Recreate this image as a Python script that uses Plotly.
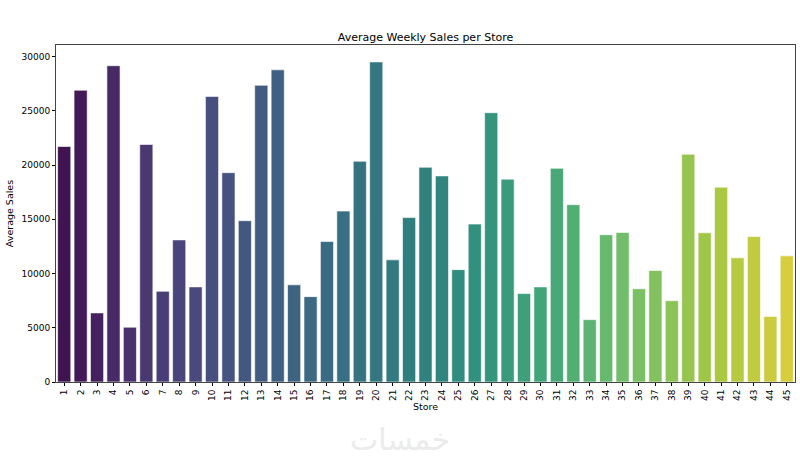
import colorsys
import plotly.graph_objects as go
from plotly.colors import sample_colorscale, unlabel_rgb

stores = [str(i) for i in range(1, 46)]
avg_sales = [21710, 26900, 6370, 29160, 5050, 21900, 8360, 13100, 8770, 26330,
             19300, 14870, 27360, 28780, 8960, 7870, 12950, 15760, 20350, 29510,
             11260, 15160, 19800, 19000, 10360, 14560, 24830, 18700, 8150, 8770,
             19700, 16350, 5750, 13580, 13790, 8600, 10280, 7500, 21000, 13760,
             17960, 11450, 13410, 6050, 11630]
y_ticks = [0, 5000, 10000, 15000, 20000, 25000, 30000]

n = len(stores)
positions = [(i + 1) / (n + 1) for i in range(n)]
raw = sample_colorscale("Viridis", positions)


def desat(c, s=0.75):
    r, g, b = [v / 255 for v in unlabel_rgb(c)]
    h, l, sat = colorsys.rgb_to_hls(r, g, b)
    r, g, b = colorsys.hls_to_rgb(h, l, sat * s)
    return f"rgb({round(r*255)},{round(g*255)},{round(b*255)})"


colors = [desat(c) for c in raw]

fig = go.Figure(go.Bar(
    x=stores, y=avg_sales,
    marker=dict(color=colors, line=dict(color="rgba(255,255,255,0.6)", width=1)),
    width=0.8,
))

fig.update_layout(
    width=800, height=460,
    margin=dict(l=56, r=5, t=45, b=78, autoexpand=False),
    paper_bgcolor="white", plot_bgcolor="white",
    font=dict(family="DejaVu Sans", size=9, color="black"),
    title=dict(text="Average Weekly Sales per Store", x=0.5, xanchor="center",
               xref="paper", y=1, yref="paper", yanchor="bottom", pad=dict(b=4),
               font=dict(size=11)),
    showlegend=False,
    bargap=0.2,
)
fig.update_xaxes(
    title=dict(text="Store", font=dict(size=9.5), standoff=2),
    range=[-0.5, n - 0.5], tickangle=-90, ticks="outside", ticklen=3,
    tickcolor="black", showline=True, linecolor="#444", linewidth=1,
    mirror=True, showgrid=False, tickfont=dict(size=9), automargin=False,
)
fig.update_yaxes(
    title=dict(text="Average Sales", font=dict(size=9.5), standoff=6),
    range=[0, 31070], tickvals=y_ticks, tickformat="d", ticks="outside", ticklen=3,
    tickcolor="black", showline=True, linecolor="#444", linewidth=1,
    mirror=True, showgrid=False, zeroline=False, tickfont=dict(size=9),
    automargin=False,
)
fig.add_annotation(text="خمسات", x=(400 - 56) / 739, xref="paper", y=-0.17, yref="paper",
                   yanchor="middle", showarrow=False,
                   font=dict(family="DejaVu Sans", size=30, color="#ebebeb"))

fig.write_html("out.html", config={"displayModeBar": False},
               post_script="document.body.style.margin='0';document.body.style.overflow='hidden';")
